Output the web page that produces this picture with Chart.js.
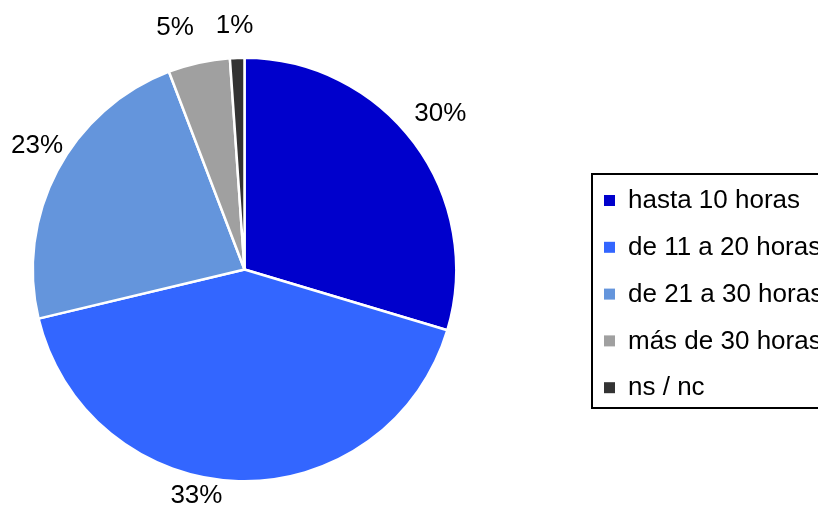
<!DOCTYPE html>
<html>
<head>
<meta charset="utf-8">
<script src="https://cdn.jsdelivr.net/npm/chart.js@4.4.1/dist/chart.umd.min.js"></script>
<style>
  html, body { margin: 0; padding: 0; background: #ffffff; }
  canvas { display: block; }
</style>
</head>
<body>
<canvas id="chart" width="818" height="507"></canvas>
<script>
// Datos del gráfico
const categorias = ['hasta 10 horas', 'de 11 a 20 horas', 'de 21 a 30 horas', 'más de 30 horas', 'ns / nc'];
const valores = [29.6, 41.6, 22.9, 4.7, 1.1];
const etiquetas = ['30%', '33%', '23%', '5%', '1%'];
const colores = ['#0000cc', '#3366ff', '#6495dc', '#a0a0a0', '#333333'];

const FUENTE = '26px "Liberation Sans", Arial, sans-serif';

// Ajuste de las etiquetas: [giro en grados, separación del borde]
const ajusteEtiquetas = [[-3.4, 18], [9.8, 5], [4.6, 8], [-3.2, 27], [-0.3, 20]];

// Etiquetas de porcentaje fuera de cada porción
const pluginEtiquetas = {
    id: 'etiquetas',
    afterDatasetsDraw(chart) {
        const ctx = chart.ctx;
        const arcos = chart.getDatasetMeta(0).data;
        ctx.save();
        ctx.font = FUENTE;
        ctx.fillStyle = '#000000';
        ctx.textAlign = 'center';
        ctx.textBaseline = 'middle';
        arcos.forEach((arco, i) => {
            const p = arco.getProps(['x', 'y', 'startAngle', 'endAngle', 'outerRadius'], true);
            const ajuste = ajusteEtiquetas[i];
            const a = (p.startAngle + p.endAngle) / 2 + ajuste[0] * Math.PI / 180;
            const ux = Math.cos(a);
            const uy = Math.sin(a);
            const w = ctx.measureText(etiquetas[i]).width;
            const h = 26;
            let x = p.x + ux * (p.outerRadius + ajuste[1]) + ux * w / 2;
            let y = p.y + uy * (p.outerRadius + ajuste[1]) + uy * h / 2;
            y = Math.min(y, chart.height - 7);
            ctx.fillText(etiquetas[i], x, y + 1);
        });
        ctx.restore();
    }
};

// Leyenda con borde a la derecha (cortada por el borde del lienzo)
const pluginLeyenda = {
    id: 'leyenda',
    afterDraw(chart) {
        const ctx = chart.ctx;
        ctx.save();
        ctx.strokeStyle = '#000000';
        ctx.lineWidth = 2;
        ctx.strokeRect(592, 174, 260, 234);
        ctx.font = FUENTE;
        ctx.textAlign = 'left';
        ctx.textBaseline = 'middle';
        categorias.forEach((cat, i) => {
            const y = 200 + i * 46.8;
            ctx.fillStyle = colores[i];
            ctx.fillRect(604, y - 5, 11, 11);
            ctx.fillStyle = '#000000';
            ctx.fillText(cat, 628, y + 1);
        });
        ctx.restore();
    }
};

new Chart(document.getElementById('chart'), {
    type: 'pie',
    data: {
        labels: categorias,
        datasets: [{
            data: valores,
            backgroundColor: colores,
            borderColor: '#ffffff',
            borderWidth: 2.5
        }]
    },
    options: {
        responsive: false,
        devicePixelRatio: 1,
        animation: false,
        layout: {
            padding: { left: 31.5, top: 56.5, right: 360.5, bottom: 24.5 }
        },
        plugins: {
            legend: { display: false },
            tooltip: { enabled: false }
        }
    },
    plugins: [pluginEtiquetas, pluginLeyenda]
});
</script>
</body>
</html>
